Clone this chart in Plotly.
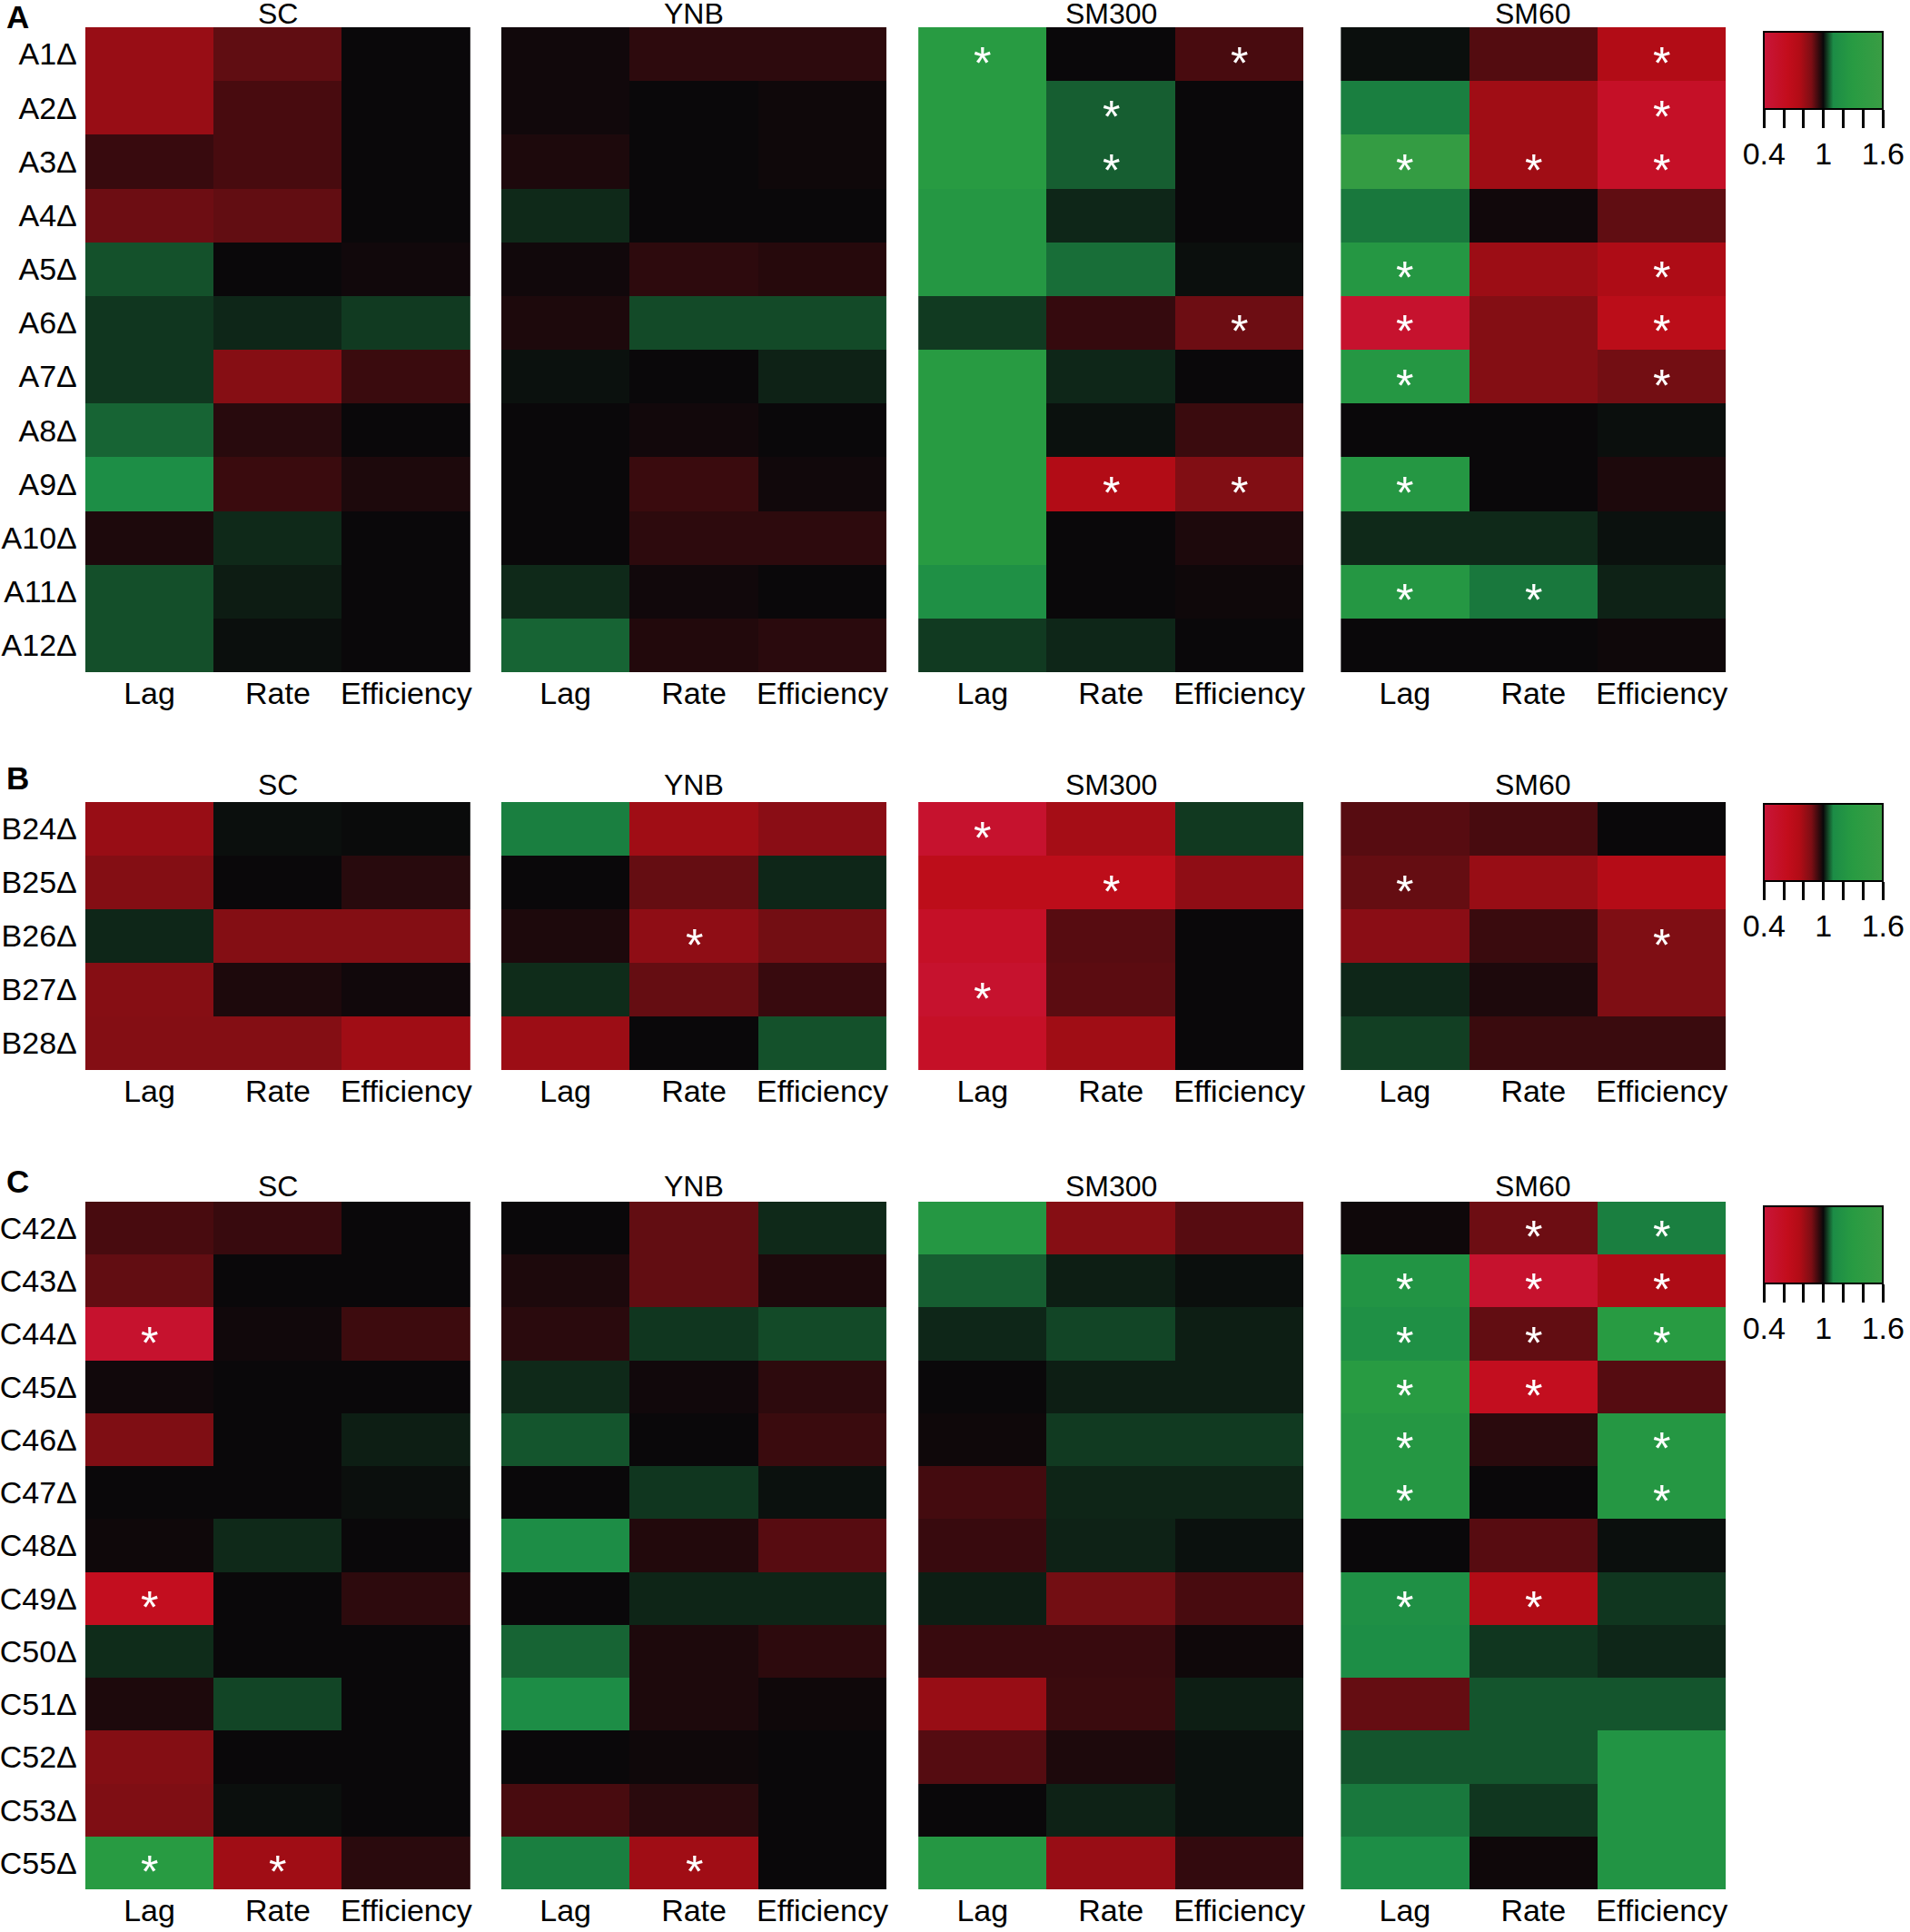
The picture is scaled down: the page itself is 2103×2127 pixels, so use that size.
import plotly.graph_objects as go

W, H = 2103, 2127

measures = ["Lag", "Rate", "Efficiency"]
media = ["SC", "YNB", "SM300", "SM60"]

# ---- panel A ----
genes_a = ["A%d\u0394" % i for i in range(1, 13)]
a_sc = [
    [0.82, 0.91, 1.00],
    [0.82, 0.935, 1.00],
    [0.952, 0.935, 1.00],
    [0.897, 0.908, 1.00],
    [1.055, 1.00, 0.993],
    [1.035, 1.023, 1.038],
    [1.035, 0.86, 0.95],
    [1.07, 0.969, 1.00],
    [1.12, 0.95, 0.98],
    [0.98, 1.025, 1.00],
    [1.054, 1.015, 1.00],
    [1.054, 1.005, 1.00],
]
a_ynb = [
    [0.993, 0.963, 0.963],
    [0.993, 1.00, 0.995],
    [0.98, 1.00, 0.995],
    [1.025, 1.00, 1.00],
    [0.993, 0.963, 0.971],
    [0.98, 1.05, 1.05],
    [1.007, 1.00, 1.02],
    [1.00, 0.992, 1.00],
    [1.00, 0.95, 0.993],
    [1.00, 0.963, 0.963],
    [1.025, 0.993, 1.00],
    [1.07, 0.975, 0.967],
]
a_sm300 = [
    [1.30, 1.00, 0.935],
    [1.30, 1.065, 1.00],
    [1.30, 1.065, 1.00],
    [1.25, 1.023, 1.00],
    [1.25, 1.077, 1.005],
    [1.038, 0.955, 0.897],
    [1.30, 1.023, 1.00],
    [1.30, 1.007, 0.95],
    [1.30, 0.76, 0.87],
    [1.30, 1.00, 0.98],
    [1.15, 1.00, 0.995],
    [1.038, 1.023, 1.00],
]
a_sm60 = [
    [1.005, 0.924, 0.76],
    [1.09, 0.80, 0.55],
    [1.50, 0.80, 0.55],
    [1.085, 0.993, 0.91],
    [1.25, 0.81, 0.77],
    [0.50, 0.865, 0.70],
    [1.25, 0.865, 0.89],
    [1.00, 1.00, 1.005],
    [1.25, 1.00, 0.98],
    [1.025, 1.025, 1.007],
    [1.25, 1.085, 1.02],
    [1.00, 1.00, 0.995],
]
stars_a = {
    "SM300": [("A1", "Lag"), ("A1", "Efficiency"), ("A2", "Rate"), ("A3", "Rate"),
              ("A6", "Efficiency"), ("A9", "Rate"), ("A9", "Efficiency")],
    "SM60": [("A1", "Efficiency"), ("A2", "Efficiency"), ("A3", "Lag"), ("A3", "Rate"),
             ("A3", "Efficiency"), ("A5", "Lag"), ("A5", "Efficiency"), ("A6", "Lag"),
             ("A6", "Efficiency"), ("A7", "Lag"), ("A7", "Efficiency"), ("A9", "Lag"),
             ("A11", "Lag"), ("A11", "Rate")],
}

# ---- panel B ----
genes_b = ["B%d\u0394" % i for i in range(24, 29)]
b_sc = [
    [0.82, 1.005, 1.002],
    [0.865, 1.00, 0.969],
    [1.023, 0.865, 0.865],
    [0.86, 0.98, 0.993],
    [0.865, 0.865, 0.80],
]
b_ynb = [
    [1.09, 0.80, 0.85],
    [1.00, 0.905, 1.023],
    [0.98, 0.84, 0.89],
    [1.027, 0.905, 0.952],
    [0.81, 1.00, 1.055],
]
b_sm300 = [
    [0.50, 0.79, 1.037],
    [0.68, 0.68, 0.84],
    [0.55, 0.92, 1.00],
    [0.50, 0.915, 1.00],
    [0.55, 0.80, 1.00],
]
b_sm60 = [
    [0.92, 0.935, 1.00],
    [0.905, 0.82, 0.74],
    [0.85, 0.95, 0.875],
    [1.023, 0.98, 0.875],
    [1.042, 0.95, 0.95],
]
stars_b = {
    "YNB": [("B26", "Rate")],
    "SM300": [("B24", "Lag"), ("B25", "Rate"), ("B27", "Lag")],
    "SM60": [("B25", "Lag"), ("B26", "Efficiency")],
}

# ---- panel C ----
genes_c = ["C%d\u0394" % i for i in list(range(42, 54)) + [55]]
c_sc = [
    [0.935, 0.952, 1.00],
    [0.908, 1.00, 1.00],
    [0.50, 0.993, 0.947],
    [0.993, 1.00, 1.00],
    [0.875, 1.00, 1.017],
    [1.00, 1.00, 1.005],
    [0.995, 1.025, 1.00],
    [0.62, 1.00, 0.963],
    [1.027, 1.00, 1.00],
    [0.98, 1.046, 1.00],
    [0.865, 1.00, 1.00],
    [0.875, 1.005, 1.00],
    [1.30, 0.80, 0.967],
]
c_ynb = [
    [1.00, 0.908, 1.025],
    [0.98, 0.908, 0.98],
    [0.967, 1.035, 1.05],
    [1.025, 0.993, 0.963],
    [1.058, 1.00, 0.95],
    [1.00, 1.035, 1.007],
    [1.11, 0.975, 0.92],
    [1.00, 1.022, 1.022],
    [1.07, 0.98, 0.963],
    [1.11, 0.98, 0.995],
    [1.00, 0.995, 1.00],
    [0.935, 0.967, 1.00],
    [1.09, 0.80, 1.00],
]
c_sm300 = [
    [1.25, 0.86, 0.92],
    [1.065, 1.017, 1.005],
    [1.023, 1.046, 1.017],
    [1.00, 1.017, 1.017],
    [0.995, 1.038, 1.038],
    [0.94, 1.022, 1.022],
    [0.952, 1.02, 1.007],
    [1.017, 0.89, 0.935],
    [0.952, 0.952, 0.995],
    [0.82, 0.95, 1.017],
    [0.922, 0.98, 1.007],
    [1.00, 1.02, 1.007],
    [1.25, 0.82, 0.957],
]
c_sm60 = [
    [0.995, 0.897, 1.09],
    [1.20, 0.50, 0.77],
    [1.15, 0.908, 1.30],
    [1.30, 0.62, 0.922],
    [1.25, 0.967, 1.25],
    [1.25, 1.00, 1.25],
    [1.00, 0.92, 1.005],
    [1.15, 0.76, 1.035],
    [1.12, 1.035, 1.023],
    [0.905, 1.058, 1.058],
    [1.058, 1.058, 1.20],
    [1.085, 1.035, 1.20],
    [1.12, 0.995, 1.20],
]
stars_c = {
    "SC": [("C44", "Lag"), ("C49", "Lag"), ("C55", "Lag"), ("C55", "Rate")],
    "YNB": [("C55", "Rate")],
    "SM60": [("C42", "Rate"), ("C42", "Efficiency"), ("C43", "Lag"), ("C43", "Rate"),
             ("C43", "Efficiency"), ("C44", "Lag"), ("C44", "Rate"), ("C44", "Efficiency"),
             ("C45", "Lag"), ("C45", "Rate"), ("C46", "Lag"), ("C46", "Efficiency"),
             ("C47", "Lag"), ("C47", "Efficiency"), ("C49", "Lag"), ("C49", "Rate")],
}

cb_ticks = [0.4, 0.6, 0.8, 1.0, 1.2, 1.4, 1.6]
cb_text = ["0.4", "", "", "1", "", "", "1.6"]

# red -> black -> green, values 0.4 .. 1.6
colorscale = [
    [0.0, "rgb(200,22,58)"],
    [0.2, "rgb(195,13,28)"],
    [0.3, "rgb(178,12,22)"],
    [0.4, "rgb(125,14,20)"],
    [0.5, "rgb(10,8,10)"],
    [0.5833, "rgb(28,140,70)"],
    [0.75, "rgb(40,155,66)"],
    [1.0, "rgb(58,157,68)"],
]

FONT = "Liberation Sans, Arial, sans-serif"
col_left = [92, 551, 1011, 1477]
col_w = 425
cb_left = 1944

panels = [
    # letter, letter y, genes, data, stars, heat top, heat bottom, title y, colorbar top
    ("A", 19, genes_a, [a_sc, a_ynb, a_sm300, a_sm60], stars_a, 30, 740, 15, 35),
    ("B", 856, genes_b, [b_sc, b_ynb, b_sm300, b_sm60], stars_b, 883, 1178, 864, 885),
    ("C", 1300, genes_c, [c_sc, c_ynb, c_sm300, c_sm60], stars_c, 1323, 2080, 1306, 1328),
]

fig = go.Figure()
annotations = []
k = 0
for p, (letter, letter_y, genes, data, stars, top, bottom, title_y, cb_top) in enumerate(panels):
    cax = "coloraxis" if p == 0 else "coloraxis%d" % (p + 1)
    fig.layout[cax] = dict(
        colorscale=colorscale, cmin=0.4, cmax=1.6,
        colorbar=dict(
            orientation="h", x=cb_left / W, xanchor="left",
            y=1 - cb_top / H, yanchor="top",
            lenmode="pixels", len=131, thicknessmode="pixels", thickness=85,
            outlinewidth=2, outlinecolor="black", xpad=0, ypad=0,
            tickmode="array", tickvals=cb_ticks, ticktext=cb_text,
            ticks="outside", ticklen=20, tickwidth=3, tickcolor="black",
            tickfont=dict(size=34, color="black", family=FONT),
        ),
    )
    annotations.append(dict(
        text="<b>%s</b>" % letter, x=3 / W, y=1 - letter_y / H,
        xref="paper", yref="paper", xanchor="left", yanchor="middle",
        showarrow=False, font=dict(size=35, color="black", family=FONT),
    ))
    for i, med in enumerate(media):
        k += 1
        xa = "x" if k == 1 else "x%d" % k
        ya = "y" if k == 1 else "y%d" % k
        fig.add_trace(go.Heatmap(
            z=data[i], x=measures, y=genes, coloraxis=cax,
            xaxis=xa, yaxis=ya,
        ))
        x0 = col_left[i] / W
        x1 = (col_left[i] + col_w) / W
        fig.layout["xaxis" if k == 1 else "xaxis%d" % k] = dict(
            domain=[x0, x1], anchor=ya, range=[-0.5, len(measures) - 0.5],
            showgrid=False, zeroline=False, showline=False, ticks="",
            tickfont=dict(size=34, color="black", family=FONT), fixedrange=True,
        )
        fig.layout["yaxis" if k == 1 else "yaxis%d" % k] = dict(
            domain=[1 - bottom / H, 1 - top / H], anchor=xa,
            range=[len(genes) - 0.5, -0.5],
            showgrid=False, zeroline=False, showline=False, ticks="",
            showticklabels=(i == 0), ticklabelstandoff=8,
            tickfont=dict(size=34, color="black", family=FONT), fixedrange=True,
        )
        annotations.append(dict(
            text=med, x=(x0 + x1) / 2, y=1 - title_y / H, xref="paper", yref="paper",
            xanchor="center", yanchor="middle", showarrow=False,
            font=dict(size=32, color="black", family=FONT),
        ))
        for gene, meas in stars.get(med, []):
            annotations.append(dict(
                text="*", x=meas, y=gene + "\u0394", xref=xa, yref=ya,
                showarrow=False, yshift=-10,
                font=dict(size=50, color="white", family=FONT),
            ))

fig.update_layout(
    width=W, height=H, margin=dict(l=0, r=0, t=0, b=0),
    paper_bgcolor="white", plot_bgcolor="white",
    annotations=annotations, showlegend=False,
    font=dict(family=FONT, color="black"),
)

# page body has a default 8px margin; drop it so the figure sits at 0,0
fig.write_html("out.html", config={"displayModeBar": False},
               post_script="document.body.style.margin='0px';")
